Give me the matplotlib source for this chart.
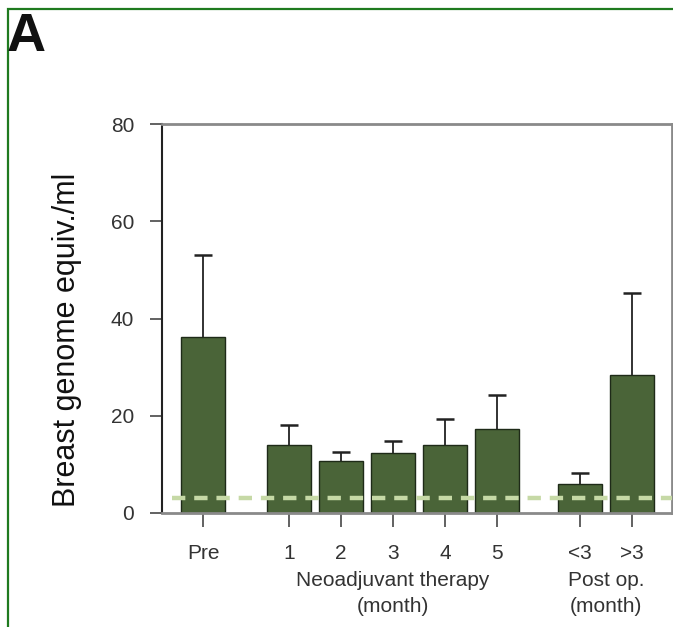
import matplotlib
matplotlib.use("Agg")
import matplotlib.pyplot as plt
from matplotlib.patches import Rectangle
import matplotlib.transforms as mtransforms

plt.rcParams['font.family'] = ['Liberation Sans', 'DejaVu Sans']

categories = ["Pre", "1", "2", "3", "4", "5", "<3", ">3"]
positions = [0, 1.65, 2.65, 3.65, 4.65, 5.65, 7.25, 8.25]
means = [36.1, 13.9, 10.6, 12.3, 14.0, 17.2, 5.9, 28.3]
upper = [53.1, 18.1, 12.5, 14.9, 19.3, 24.3, 8.2, 45.2]
threshold = 3.0
yticks = [0, 20, 40, 60, 80]

W, H = 673, 627
fig = plt.figure(figsize=(W / 100, H / 100), dpi=100)

# green frame
fig.patches.append(Rectangle((8 / W, -0.1), 1.2, 1 - 9 / H + 0.1, transform=fig.transFigure,
                             fill=False, edgecolor='#1f7a1f', linewidth=1.6, zorder=0))

ax = fig.add_axes([162 / W, 1 - 513 / H, (672 - 162) / W, (513 - 124) / H])

errs = [u - m for u, m in zip(upper, means)]
ax.bar(positions, means, width=0.85, color='#4a6438', edgecolor='#1e2a18', linewidth=1.0, zorder=2)
eb = ax.errorbar(positions, means, yerr=[[0] * len(means), errs], fmt='none', ecolor='#222222',
                 elinewidth=1.3, capsize=6.5, capthick=1.8, zorder=3)
# hide lower caps
eb[1][0].set_visible(False)

ax.axhline(threshold, xmin=0.02, xmax=1.0, color='#c6d9a6', linewidth=3.2,
           linestyle=(0, (3.0, 2.0)), zorder=4)

ax.set_xlim(-0.79, 9.02)
ax.set_ylim(0, 80)
ax.set_yticks(yticks)
ax.set_yticklabels([str(v) for v in yticks], fontsize=15, color='#333333')
ax.set_xticks(positions)
ax.set_xticklabels(categories, fontsize=15, color='#333333')
ax.tick_params(axis='y', length=9, width=1.3, color='#555555', pad=11)
ax.tick_params(axis='x', length=10, width=1.3, color='#555555', pad=12)

ax.spines['left'].set_color('#222222')
ax.spines['left'].set_linewidth(1.5)
for s in ['top', 'right', 'bottom']:
    ax.spines[s].set_color('#8a8a8a')
    ax.spines[s].set_linewidth(2.0)

ax.set_ylabel('Breast genome equiv./ml', fontsize=22, color='#111111')
ax.yaxis.set_label_coords((82 - 162) / (672 - 162), (513 - 340) / (513 - 124))

trans = mtransforms.blended_transform_factory(ax.transData, fig.transFigure)
neo_x = sum(positions[1:6]) / 5
post_x = sum(positions[6:8]) / 2
for x, txt, yy in [(neo_x, 'Neoadjuvant therapy', 581), (neo_x, '(month)', 606),
                   (post_x, 'Post op.', 581), (post_x, '(month)', 606)]:
    ax.text(x, 1 - yy / H, txt, transform=trans, ha='center', va='center',
            fontsize=15, color='#333333')

fig.text(7 / W, 1 - 12 / H, 'A', fontsize=39, fontweight='bold', ha='left', va='top', color='#111111')

fig.savefig('out.png', dpi=100)
